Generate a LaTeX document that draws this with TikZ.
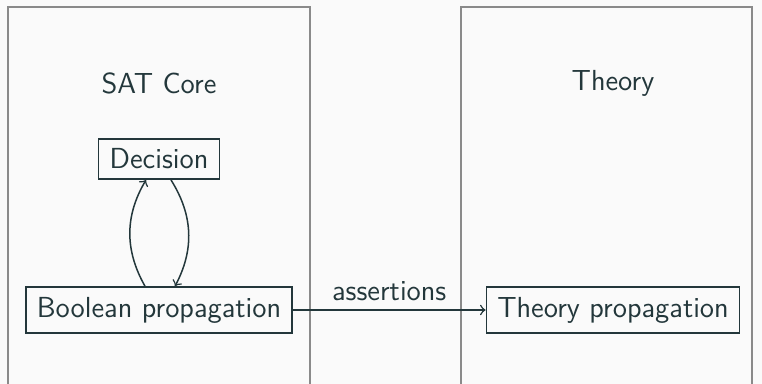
\documentclass[tikz,border=0pt]{standalone}
\definecolor{bgc}{HTML}{FAFAFA}
\definecolor{fgc}{HTML}{23373B}
\definecolor{framec}{HTML}{8A8A8A}
\begin{document}
\begin{tikzpicture}[x=0.4pt,y=-0.4pt,
  every node/.style={text=fgc,font=\sffamily\fontsize{11.6}{14}\selectfont},
  blk/.style={draw=fgc,line width=0.6pt,inner xsep=4.4pt,inner ysep=4pt},
  region/.style={draw=framec,line width=0.6pt},
  conn/.style={draw=fgc,line width=0.6pt,->}]
\useasboundingbox (0,0) rectangle (762,384);
\fill[bgc] (0,0) rectangle (762,384);
\begin{scope}
\clip (0,0) rectangle (762,384);
\draw[region] (8,7) rectangle (310,420);
\draw[region] (461,7) rectangle (752,420);
\end{scope}
\node (sat) at (159,83) {SAT Core};
\node (thy) at (613,83) {Theory};
\node[blk] (dec) at (159,159) {Decision};
\node[blk] (bool) at (159,310) {Boolean propagation};
\node[blk] (tp) at (613,310) {Theory propagation};
\draw[conn] ([xshift=-5.6pt]bool.north) to[bend left=30] ([xshift=-5.2pt]dec.south);
\draw[conn] ([xshift=4.8pt]dec.south) to[bend left=30] ([xshift=6.4pt]bool.north);
\draw[conn] (bool.east) -- node[above] (lab) {assertions} (tp.west);
\end{tikzpicture}
\end{document}
